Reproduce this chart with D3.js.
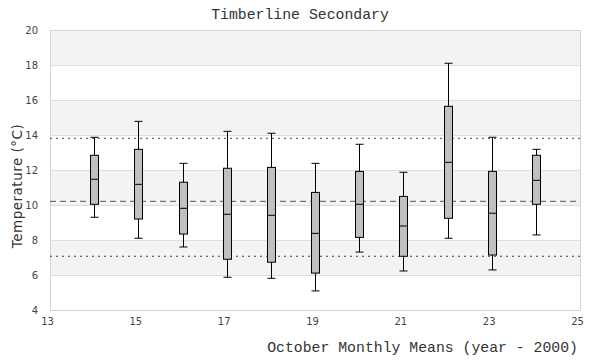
<!DOCTYPE html>
<html><head><meta charset="utf-8">
<script src="https://cdn.jsdelivr.net/npm/d3@7"></script>
<style>body{margin:0;background:#fff;}</style>
</head><body>
<script>
const years = [14,15,16,17,18,19,20,21,22,23,24];
const whiskerHigh = [13.87,14.78,12.38,14.21,14.10,12.38,13.47,11.87,18.10,13.87,13.18];
const q3 = [12.84,13.18,11.30,12.10,12.15,10.72,11.92,10.49,15.64,11.92,12.84];
const medians = [11.47,11.18,9.81,9.47,9.41,8.38,10.04,8.80,12.44,9.53,11.41];
const q1 = [10.04,9.20,8.34,6.90,6.73,6.11,8.15,7.07,9.24,7.14,10.04];
const whiskerLow = [9.30,8.10,7.60,5.87,5.81,5.09,7.31,6.23,8.10,6.29,8.29];
const refMean = 10.21;
const refUpper = 13.81;
const refLower = 7.07;
const xTicks = [13,15,17,19,21,23,25];
const yTicks = [4,6,8,10,12,14,16,18,20];
const title = "Timberline Secondary";
const xTitle = "October Monthly Means (year - 2000)";
const yTitle = "Temperature (°C)";

const W=600,H=360, L=50,R=580,T=30,B=310;
const svg=d3.select("body").append("svg").attr("width",W).attr("height",H);
const x=d3.scaleLinear().domain([13,25]).range([L,R]);
const y=d3.scaleLinear().domain([4,20]).range([B,T]);

// bands
for(let i=0;i<yTicks.length-1;i++){
  const lo=yTicks[i], hi=yTicks[i+1];
  if(i%2===1){
    svg.append("rect").attr("x",L).attr("y",y(hi)).attr("width",R-L).attr("height",y(lo)-y(hi)).attr("fill","#f3f3f3");
  }
}
// grid
svg.append("g").selectAll("line").data(yTicks).join("line")
  .attr("x1",L).attr("x2",R).attr("y1",d=>y(d)+0.5).attr("y2",d=>y(d)+0.5)
  .attr("stroke","#dddddd").attr("stroke-width",1);
svg.append("rect").attr("x",L+0.5).attr("y",T+0.5).attr("width",R-L).attr("height",B-T)
  .attr("fill","none").attr("stroke","#d4d4d4");

// axes
const yAxis=d3.axisLeft(y).tickValues(yTicks).tickSize(0).tickPadding(12);
const gy=svg.append("g").attr("transform",`translate(${L},0)`).call(yAxis);
gy.select(".domain").remove();
gy.selectAll("text").attr("font-family","DejaVu Sans").attr("font-size",10).attr("fill","#444");
const xAxis=d3.axisBottom(x).tickValues(xTicks).tickSize(0).tickPadding(8);
const gx=svg.append("g").attr("transform",`translate(0,${B})`).call(xAxis);
gx.select(".domain").remove();
gx.selectAll("text").attr("font-family","DejaVu Sans").attr("font-size",10).attr("fill","#444").attr("dx",-3);

// ref lines
svg.append("line").attr("x1",L).attr("x2",R).attr("y1",y(refUpper)).attr("y2",y(refUpper))
  .attr("stroke","#444").attr("stroke-dasharray","2,4");
svg.append("line").attr("x1",L).attr("x2",R).attr("y1",y(refLower)).attr("y2",y(refLower))
  .attr("stroke","#444").attr("stroke-dasharray","2,4");
svg.append("line").attr("x1",L).attr("x2",R).attr("y1",y(refMean)).attr("y2",y(refMean))
  .attr("stroke","#555").attr("stroke-dasharray","6,4");

// boxes
const bw=8;
const g=svg.append("g");
years.forEach((yr,i)=>{
  const cx=Math.round(x(yr))+0.5;
  g.append("line").attr("x1",cx).attr("x2",cx).attr("y1",y(whiskerHigh[i])).attr("y2",y(whiskerLow[i])).attr("stroke","#000");
  g.append("line").attr("x1",cx-bw/2).attr("x2",cx+bw/2).attr("y1",y(whiskerHigh[i])).attr("y2",y(whiskerHigh[i])).attr("stroke","#000");
  g.append("line").attr("x1",cx-bw/2).attr("x2",cx+bw/2).attr("y1",y(whiskerLow[i])).attr("y2",y(whiskerLow[i])).attr("stroke","#000");
  g.append("rect").attr("x",cx-bw/2).attr("y",y(q3[i])).attr("width",bw).attr("height",y(q1[i])-y(q3[i]))
    .attr("fill","#c0c0c0").attr("stroke","#000");
  g.append("line").attr("x1",cx-bw/2).attr("x2",cx+bw/2).attr("y1",y(medians[i])).attr("y2",y(medians[i])).attr("stroke","#000");
});

// titles
svg.append("text").attr("x",300).attr("y",19).attr("text-anchor","middle")
  .attr("font-family","Liberation Mono").attr("font-size",14.8).attr("fill","#333").text(title);
svg.append("text").attr("x",578).attr("y",352).attr("text-anchor","end")
  .attr("font-family","Liberation Mono").attr("font-size",14.8).attr("fill","#333").text(xTitle);
svg.append("text").attr("transform","translate(22,186) rotate(-90)").attr("text-anchor","middle")
  .attr("font-family","DejaVu Sans").attr("font-size",13.5).attr("letter-spacing",0.5).attr("fill","#333").text(yTitle);
</script>
</body></html>
